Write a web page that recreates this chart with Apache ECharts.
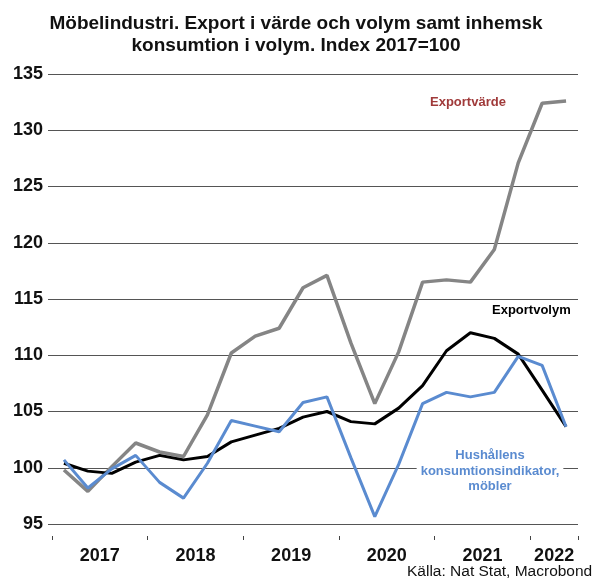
<!DOCTYPE html>
<html>
<head>
<meta charset="utf-8">
<script src="https://cdn.jsdelivr.net/npm/echarts@6/dist/echarts.min.js"></script>
<style>
  html, body { margin: 0; padding: 0; background: #fff; }
  #chart { width: 592px; height: 584px; }
</style>
</head>
<body>
<div id="chart"></div>
<script>
// kvartal 2017K1 - 2022K2
const quarters = [
  '2017K1', '2017K2', '2017K3', '2017K4',
  '2018K1', '2018K2', '2018K3', '2018K4',
  '2019K1', '2019K2', '2019K3', '2019K4',
  '2020K1', '2020K2', '2020K3', '2020K4',
  '2021K1', '2021K2', '2021K3', '2021K4',
  '2022K1', '2022K2'
]
const exportVarde = [
  99.8, 97.9, 100.1, 102.2, 101.4, 101.0, 104.7, 110.2,
  111.7, 112.4, 116.0, 117.1, 111.1, 105.7, 110.3, 116.5,
  116.7, 116.5, 119.4, 127.1, 132.4, 132.6
]
const exportVolym = [
  100.4, 99.7, 99.5, 100.5, 101.1, 100.7, 101.0, 102.3,
  102.9, 103.5, 104.5, 105.0, 104.1, 103.9, 105.3, 107.3,
  110.4, 112.0, 111.5, 110.1, 106.9, 103.65
]
const hushallen = [
  100.7, 98.2, 99.9, 101.1, 98.7, 97.3, 100.4, 104.2,
  103.7, 103.2, 105.8, 106.3, 100.9, 95.65, 100.3, 105.7,
  106.7, 106.3, 106.7, 109.9, 109.1, 103.65
]
const yTicks = [95, 100, 105, 110, 115, 120, 125, 130, 135]
// årsetiketten står mitt i året (mellan K2 och K3, 2022: mellan K1 och K2)
const yearLabelIdx = [1, 5, 9, 13, 17, 20]

const font = 'Liberation Sans, Arial, sans-serif'
const myChart = echarts.init(document.getElementById('chart'))

const option = {
  animation: false,
  title: {
    text: 'Möbelindustri. Export i värde och volym samt inhemsk\nkonsumtion i volym. Index 2017=100',
    left: 'center',
    top: 8,
    textStyle: { fontFamily: font, fontSize: 19, fontWeight: 'bold', color: '#111', lineHeight: 22 }
  },
  grid: { left: 52, right: 14, top: 74, bottom: 60, outerBoundsMode: 'none' },
  xAxis: {
    type: 'category',
    data: quarters,
    boundaryGap: true,
    offset: 12,
    axisLine: { show: false },
    axisTick: {
      show: true,
      length: 4,
      interval: (i) => i % 4 === 0,
      lineStyle: { color: '#444' }
    },
    axisLabel: {
      interval: (i) => yearLabelIdx.indexOf(i) >= 0,
      margin: 11,
      formatter: (v) => '{y|' + v.slice(0, 4) + '}',
      rich: {
        y: { fontFamily: font, fontSize: 18, fontWeight: 'bold', color: '#111', padding: [0, 0, 0, 24] }
      }
    },
    splitLine: { show: false }
  },
  yAxis: {
    type: 'value',
    min: yTicks[0],
    max: yTicks[yTicks.length - 1],
    interval: 5,
    axisLine: { show: false },
    axisTick: { show: true, length: 4, lineStyle: { color: '#555' } },
    axisLabel: { fontFamily: font, fontSize: 18, fontWeight: 'bold', color: '#111', margin: 9 },
    splitLine: { lineStyle: { color: '#555', width: 1 } }
  },
  series: [
    {
      name: 'Exportvärde',
      type: 'line',
      data: exportVarde,
      symbol: 'none',
      lineStyle: { color: '#858585', width: 3.5 },
      z: 2
    },
    {
      name: 'Exportvolym',
      type: 'line',
      data: exportVolym,
      symbol: 'none',
      lineStyle: { color: '#000', width: 3 },
      z: 3
    },
    {
      name: 'Hushållens konsumtionsindikator, möbler',
      type: 'line',
      data: hushallen,
      symbol: 'none',
      lineStyle: { color: '#5a8bd0', width: 3 },
      z: 4
    }
  ],
  graphic: [
    {
      type: 'text', left: 430, top: 96, z: 10,
      style: { text: 'Exportvärde', fill: '#a03a3a', font: 'bold 13px ' + font }
    },
    {
      type: 'text', left: 489, top: 303, z: 10,
      style: { text: 'Exportvolym', fill: '#000', font: 'bold 13px ' + font, backgroundColor: '#fff', padding: [1, 3] }
    },
    {
      type: 'text', x: 490, y: 448, z: 10,
      style: {
        text: 'Hushållens\nkonsumtionsindikator,\nmöbler',
        fill: '#5a8bd0', font: 'bold 13px ' + font, align: 'center', verticalAlign: 'top',
        lineHeight: 15.5, backgroundColor: '#fff', padding: [0, 4]
      }
    },
    {
      type: 'text', left: 407, top: 564, z: 10,
      style: { text: 'Källa: Nat Stat, Macrobond', fill: '#111', font: '15.5px ' + font }
    }
  ]
}

option && myChart.setOption(option)
</script>
</body>
</html>
